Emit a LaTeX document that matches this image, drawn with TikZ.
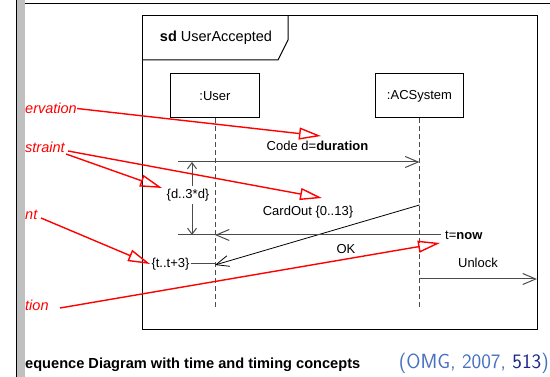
\documentclass[tikz,border=0pt]{standalone}
\usepackage{fontspec}
\setmainfont{Liberation Sans}
\usetikzlibrary{arrows.meta}
\definecolor{citelight}{RGB}{72,112,192}
\definecolor{citedark}{RGB}{28,40,135}
\definecolor{msggray}{RGB}{75,75,75}
\definecolor{barfill}{RGB}{192,192,192}
\begin{document}
\begin{tikzpicture}[x=1pt,y=-1pt,
  lbl/.style={font=\fontsize{13}{15}\selectfont, inner sep=1pt},
  objbox/.style={draw, line width=1pt, minimum width=88.5pt, minimum height=44pt,
                 font=\fontsize{13}{15}\selectfont},
  lifeline/.style={draw=msggray, line width=1pt, dash pattern=on 5pt off 3pt},
  msg/.style={draw=msggray, line width=1pt, -{Straight Barb[length=13pt,width=11pt]}},
  thin msg/.style={draw=black, line width=0.8pt, -{Straight Barb[length=13pt,width=11pt]}},
  tick/.style={draw=msggray, line width=1pt},
  redtxt/.style={text=red, font=\fontsize{14.5}{16}\selectfont\itshape, inner sep=0pt, anchor=west},
  redarrow/.style={draw=red, line width=1.4pt, -{Triangle[open,length=22pt,width=12pt]}}]
\useasboundingbox (0,0) rectangle (550,377);

% page edge: grey margin bar and top rule
\fill[barfill] (17,0) rectangle (25,377);
\draw[line width=1.1pt] (16.5,0) -- (16.5,377);
\draw[line width=1.2pt] (25,3.5) -- (550,3.5);

% sequence diagram frame with its name tab
\draw[line width=1pt] (142,16) rectangle (537,330);
\draw[line width=1pt] (142,60) -- (278,60) -- (288,40) -- (288,16);
\node[font=\fontsize{14.5}{16}\selectfont] (title) at (216,38) {\textbf{sd} UserAccepted};

% lifelines
\node[objbox] (user) at (215,96) {:User};
\node[objbox] (acs) at (419.5,96) {:ACSystem};
\coordinate (userend) at (215,308);
\coordinate (acsend) at (419.5,308);
\draw[lifeline] (user.south) -- (userend);
\draw[lifeline] (acs.south) -- (acsend);

% Code message
\coordinate (codeS) at (178,162);
\coordinate (codeE) at (419.5,162);
\draw[msg] (codeS) -- (codeE);
\node[lbl] (codelbl) at (317.5,146) {Code d=\textbf{duration}};

% duration constraint
\coordinate (durTop) at (192,162);
\coordinate (durBot) at (192,235);
\draw[tick, {Straight Barb[length=6pt,width=9pt]}-{Straight Barb[length=6pt,width=9pt]}] (durTop) -- (durBot);
\node[lbl, fill=white, inner sep=3pt] (durlbl) at (188,195) {\{d..3*d\}};

% CardOut message
\coordinate (cardS) at (419.5,205);
\coordinate (cardE) at (215,265);
\draw[thin msg] (cardS) -- (cardE);
\node[lbl] (cardlbl) at (308,212) {CardOut \{0..13\}};

% OK message with time observation t=now
\coordinate (okL) at (178,235);
\coordinate (okR) at (441,235);
\coordinate (okS) at (419.5,235);
\coordinate (okE) at (215,235);
\draw[tick] (okL) -- (okR);
\draw[msg] (okS) -- (okE);
\node[lbl, anchor=west] (nowlbl) at (444,235) {t=\textbf{now}};
\node[lbl] (oklbl) at (346,249) {OK};

% time constraint
\node[lbl] (tlbl) at (170.5,264) {\{t..t+3\}};
\coordinate (tc) at (215,264);
\draw[tick] (tlbl.east) -- (tc);

% Unlock message
\coordinate (unS) at (419.5,279);
\coordinate (unE) at (537,279);
\draw[msg] (unS) -- (unE);
\node[lbl] (unlbl) at (478,263) {Unlock};

% red annotations
\node[redtxt] (obs) at (25,108) {ervation};
\node[redtxt] (con) at (25,147) {straint};
\node[redtxt] (tcon) at (25,215) {nt};
\node[redtxt] (tobs) at (25,305) {tion};
\coordinate (obsTip) at (321,136);
\coordinate (conTipA) at (162,188);
\coordinate (conTipB) at (322,198);
\coordinate (tconTip) at (150,264);
\coordinate (tobsTip) at (440,243);
\draw[redarrow] (77,108.5) -- (obsTip);
\draw[redarrow] (66,154) -- (conTipA);
\draw[redarrow] (68,151) -- (conTipB);
\draw[redarrow] (41,218) -- (tconTip);
\draw[redarrow] (60,308) -- (tobsTip);

% caption and citation
\node[anchor=west, inner sep=0pt, font=\fontsize{14.6}{16}\selectfont\bfseries] (cap) at (25,365) {equence Diagram with time and timing concepts};
\node[anchor=east, inner sep=0pt, font=\sffamily\fontsize{20.5}{22}\selectfont] (cite) at (549,363)
  {\textcolor{citelight}{(OMG, 2007, }\textcolor{citedark}{513}\textcolor{citelight}{)}};
\end{tikzpicture}
\end{document}
